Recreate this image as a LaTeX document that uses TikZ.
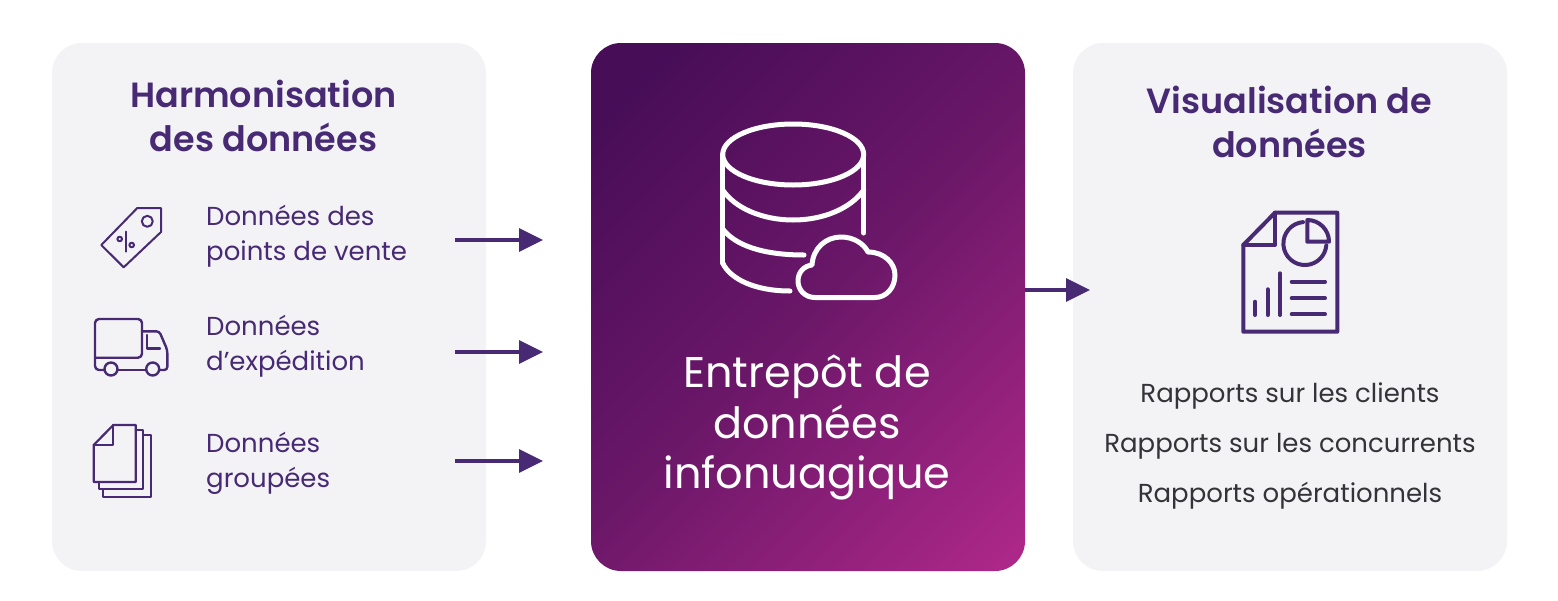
\documentclass[tikz,border=0pt]{standalone}
\usepackage{fontspec}
\setmainfont{Poppins}
\newfontfamily\headfont{Poppins SemiBold}
\usetikzlibrary{arrows.meta}
\definecolor{panelgrey}{HTML}{F3F3F6}
\definecolor{brandpurple}{HTML}{472A73}
\definecolor{bodydark}{HTML}{333338}
\definecolor{gradA}{HTML}{470D57}
\definecolor{gradB}{HTML}{6A1768}
\definecolor{gradC}{HTML}{AB2788}
\pgfdeclarehorizontalshading{warehouseshade}{100bp}{%
  color(0bp)=(gradA); color(20bp)=(gradA); color(50bp)=(gradB); color(83bp)=(gradC); color(100bp)=(gradC)}
\tikzset{
  x=1pt,y=-1pt,
  panel/.style={fill=panelgrey,rounded corners=30pt},
  flowarrow/.style={draw=brandpurple,line width=3.2pt,-{Triangle[length=24pt,width=23pt]}},
  iconline/.style={draw=brandpurple,line width=2pt,line join=round,line cap=round},
  reportline/.style={draw=brandpurple,line width=4pt,line join=round,line cap=round},
  dbline/.style={draw=white,line width=5pt,line join=round,line cap=round},
  heading/.style={text=brandpurple,font=\fontsize{35}{44}\headfont,align=center,inner sep=0pt},
  itemtext/.style={text=brandpurple,font=\fontsize{26}{35}\selectfont,align=left,anchor=west,inner sep=0pt},
  reporttext/.style={text=bodydark,font=\fontsize{26}{26}\selectfont,inner sep=0pt},
  bigtext/.style={text=white,font=\fontsize{43}{50.5}\selectfont,align=center,inner sep=0pt}
}
\begin{document}
\begin{tikzpicture}
\useasboundingbox (0,0) rectangle (1558,600);
\fill[white] (0,0) rectangle (1558,600);
\fill[panel] (52,43) rectangle (486,571);
\fill[panel] (1073,43) rectangle (1507,571);
\path[rounded corners=30pt,shading=warehouseshade,shading angle=-45] (591,43) rectangle (1025,571);

\node[heading] (hleft) at (263.5,115.5) {Harmonisation\\des données};
\node[heading] (hright) at (1289.5,122) {Visualisation de\\données};

\node[itemtext] (pos) at (206,236) {Données des\\points de vente};
\node[itemtext] (ship) at (206,346) {Données\\d’expédition};
\node[itemtext] (batch) at (206,463) {Données\\groupées};

\node[bigtext] (wh) at (807,427.5) {Entrepôt de\\données\\infonuagique};

\node[reporttext] (r1) at (1290,396) {Rapports sur les clients};
\node[reporttext] (r2) at (1290,446) {Rapports sur les concurrents};
\node[reporttext] (r3) at (1290,496) {Rapports opérationnels};

% arrows
\coordinate (a1) at (455,240); \coordinate (b1) at (543,240);
\coordinate (a2) at (455,352); \coordinate (b2) at (543,352);
\coordinate (a3) at (455,461); \coordinate (b3) at (543,461);
\coordinate (a4) at (1025,290); \coordinate (b4) at (1090,290);
\draw[flowarrow] (a1) -- (b1);
\draw[flowarrow] (a2) -- (b2);
\draw[flowarrow] (a3) -- (b3);
\draw[flowarrow] (a4) -- (b4);

% tag icon
\draw[iconline] (137.3,208) -- (161,208) -- (161,232) -- (123.7,267.3) -- (101.3,245) -- cycle;
\draw[iconline] (147.3,221.3) circle[radius=5.5];
\draw[iconline] (125.7,231.7) -- (125.7,251.7);
\draw[iconline] (119.7,239) circle[radius=2.3];
\draw[iconline] (131.7,245) circle[radius=2.3];

% truck icon
\draw[iconline,line width=2.4pt,rounded corners=4pt] (104.5,370) -- (95,370) -- (95,319) -- (142,319) -- (142,357.7) -- (95,357.7);
\draw[iconline,line width=2.4pt,rounded corners=3pt] (117.5,370) -- (146.2,370);
\draw[iconline,line width=2.4pt,rounded corners=3pt] (159.2,370) -- (167.3,370) -- (167.3,350) -- (159.3,331.3) -- (142,331.3);
\draw[iconline,line width=2.4pt] (111,369) circle[radius=6.5];
\draw[iconline,line width=2.4pt] (152.7,369) circle[radius=6.5];
\draw[iconline,line width=2.4pt] (146.7,335) -- (146.7,348.3) -- (160,348.3);

% documents icon
\draw[iconline,line width=2.2pt] (93.7,445) -- (113.3,425) -- (135.7,425) -- (135.7,482) -- (93.7,482) -- cycle;
\draw[iconline,line width=2.2pt] (113.3,425) -- (113.3,445) -- (93.7,445);
\draw[iconline,line width=2.2pt] (135.7,430) -- (143.3,430) -- (143.3,489.3) -- (98.7,489.3) -- (98.7,482);
\draw[iconline,line width=2.2pt] (143.3,435) -- (150.7,435) -- (150.7,497) -- (103.3,497) -- (103.3,489.3);

% database icon
\draw[dbline] (793.2,154.5) ellipse[x radius=70.5,y radius=30.5];
\draw[dbline] (722.7,154.5) -- (722.7,263);
\draw[dbline] (863.7,154.5) -- (863.7,233);
\draw[dbline] (722.7,190) .. controls (735,208) and (762,220) .. (793.2,220) .. controls (824,220) and (851,208) .. (863.7,190);
\draw[dbline] (722.7,229) .. controls (735,245) and (762,255) .. (804,255);
\draw[dbline] (722.7,263) .. controls (730,279) and (755,291) .. (790,291);
\draw[dbline] (815,297.5) .. controls (805,297.5) and (798,290) .. (798,281) .. controls (798,272) and (804,266) .. (812,265) .. controls (813,248) and (826,237) .. (841,237) .. controls (854,237) and (864,244) .. (868,252) .. controls (884,252) and (895,263) .. (895,275) .. controls (895,288) and (886,297.5) .. (875,297.5) -- cycle;

% report icon
\draw[reportline] (1275,212.7) -- (1337.3,212.7) -- (1337.3,331.7) -- (1243.3,331.7) -- (1243.3,245) -- cycle;
\draw[reportline] (1275,212.7) -- (1275,245) -- (1243.3,245);
\draw[reportline] (1303,222.1) arc[start angle=-95,end angle=-355,radius=21.5];
\draw[reportline] (1307.3,220) -- (1307.3,241.7) -- (1329,241.7) arc[start angle=0,end angle=-90,radius=21.7] -- cycle;
\draw[reportline] (1255,301.7) -- (1255,315);
\draw[reportline] (1267.7,289.3) -- (1267.7,315);
\draw[reportline] (1280,273.3) -- (1280,315);
\draw[reportline] (1291.7,281.7) -- (1325,281.7);
\draw[reportline] (1291.7,298.3) -- (1325,298.3);
\draw[reportline] (1291.7,314.3) -- (1325,314.3);
\end{tikzpicture}
\end{document}
